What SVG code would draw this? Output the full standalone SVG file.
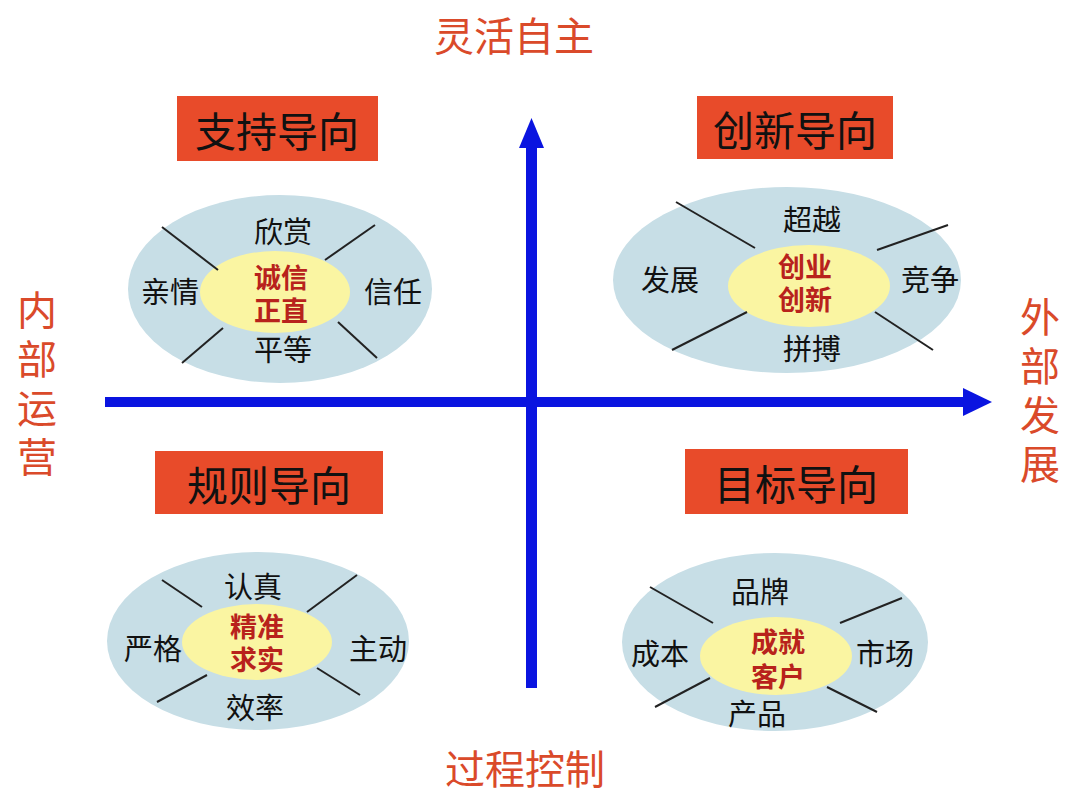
<svg xmlns="http://www.w3.org/2000/svg" width="1080" height="808" viewBox="0 0 1080 808">
<defs>
<style>
text{font-family:"Noto Sans CJK SC","Noto Sans",sans-serif;text-anchor:middle;dominant-baseline:central}
.axl{fill:#DA4A2A;font-size:40px}
.vt{writing-mode:vertical-rl;letter-spacing:9px}
.ttl{fill:#111;font-size:41px}
.box{fill:#E84B2A}
.outer{fill:#C7DEE6}
.inner{fill:#FAF5A2}
.sp{stroke:#222;stroke-width:2}
.ot{fill:#111;font-size:29px}
.it{fill:#B8221C;font-size:27px;font-weight:bold}
.ax{fill:#0A14E0}
</style>
</defs>
<rect width="1080" height="808" fill="#fff"/>
<g id="connectors">
<rect class="ax" x="526" y="145" width="11" height="543"/>
<polygon class="ax" points="531.5,118 519,148 544,148"/>
<rect class="ax" x="105" y="397" width="860" height="10"/>
<polygon class="ax" points="992,402 963,388 963,416"/>
</g>
<g id="axis-labels">
<text class="axl" x="514" y="34">灵活自主</text>
<text class="axl" x="525" y="767">过程控制</text>
<text class="axl vt" x="37" y="388">内部运营</text>
<text class="axl vt" x="1040" y="395">外部发展</text>
</g>
<g id="title-support">
<rect class="box" x="177" y="96" width="201" height="65"/>
<text class="ttl" x="277" y="129">支持导向</text>
</g>
<g id="title-innovation">
<rect class="box" x="697" y="96" width="196" height="63"/>
<text class="ttl" x="795" y="128">创新导向</text>
</g>
<g id="title-rule">
<rect class="box" x="155" y="451" width="228" height="63"/>
<text class="ttl" x="269" y="483">规则导向</text>
</g>
<g id="title-goal">
<rect class="box" x="685" y="449" width="223" height="65"/>
<text class="ttl" x="796" y="482">目标导向</text>
</g>
<g id="ellipse-support">
<ellipse class="outer" cx="280" cy="289" rx="152" ry="94"/>
<ellipse class="inner" cx="275" cy="292" rx="75" ry="41"/>
<line class="sp" x1="162" y1="227" x2="218" y2="270"/>
<line class="sp" x1="375" y1="225" x2="325" y2="260"/>
<line class="sp" x1="182" y1="363" x2="223" y2="328"/>
<line class="sp" x1="338" y1="322" x2="377" y2="358"/>
<text class="ot" x="283" y="230">欣赏</text>
<text class="ot" x="170" y="290">亲情</text>
<text class="ot" x="393" y="290">信任</text>
<text class="ot" x="283" y="348">平等</text>
<text class="it" x="281" y="276">诚信<tspan x="281" dy="33">正直</tspan></text>
</g>
<g id="ellipse-innovation">
<ellipse class="outer" cx="787" cy="280" rx="174" ry="93"/>
<ellipse class="inner" cx="809" cy="286" rx="81" ry="41"/>
<line class="sp" x1="676" y1="202" x2="755" y2="248"/>
<line class="sp" x1="877" y1="250" x2="948" y2="225"/>
<line class="sp" x1="672" y1="350" x2="747" y2="312"/>
<line class="sp" x1="875" y1="312" x2="933" y2="350"/>
<text class="ot" x="812" y="218">超越</text>
<text class="ot" x="670" y="278">发展</text>
<text class="ot" x="930" y="278">竞争</text>
<text class="ot" x="812" y="347">拼搏</text>
<text class="it" x="805" y="265">创业<tspan x="805" dy="33">创新</tspan></text>
</g>
<g id="ellipse-rule">
<ellipse class="outer" cx="258" cy="641" rx="151" ry="89"/>
<ellipse class="inner" cx="257" cy="642" rx="75" ry="38"/>
<line class="sp" x1="162" y1="580" x2="202" y2="607"/>
<line class="sp" x1="307" y1="612" x2="357" y2="575"/>
<line class="sp" x1="157" y1="702" x2="207" y2="675"/>
<line class="sp" x1="317" y1="668" x2="360" y2="695"/>
<text class="ot" x="253" y="585">认真</text>
<text class="ot" x="153" y="647">严格</text>
<text class="ot" x="378" y="647">主动</text>
<text class="ot" x="255" y="706">效率</text>
<text class="it" x="257" y="625">精准<tspan x="257" dy="33">求实</tspan></text>
</g>
<g id="ellipse-goal">
<ellipse class="outer" cx="775" cy="642" rx="153" ry="89"/>
<ellipse class="inner" cx="776" cy="656" rx="76" ry="39"/>
<line class="sp" x1="650" y1="587" x2="713" y2="623"/>
<line class="sp" x1="840" y1="623" x2="902" y2="598"/>
<line class="sp" x1="655" y1="707" x2="710" y2="678"/>
<line class="sp" x1="827" y1="687" x2="877" y2="712"/>
<text class="ot" x="760" y="590">品牌</text>
<text class="ot" x="660" y="652">成本</text>
<text class="ot" x="885" y="652">市场</text>
<text class="ot" x="757" y="712">产品</text>
<text class="it" x="778" y="640">成就<tspan x="778" dy="35">客户</tspan></text>
</g>
</svg>
